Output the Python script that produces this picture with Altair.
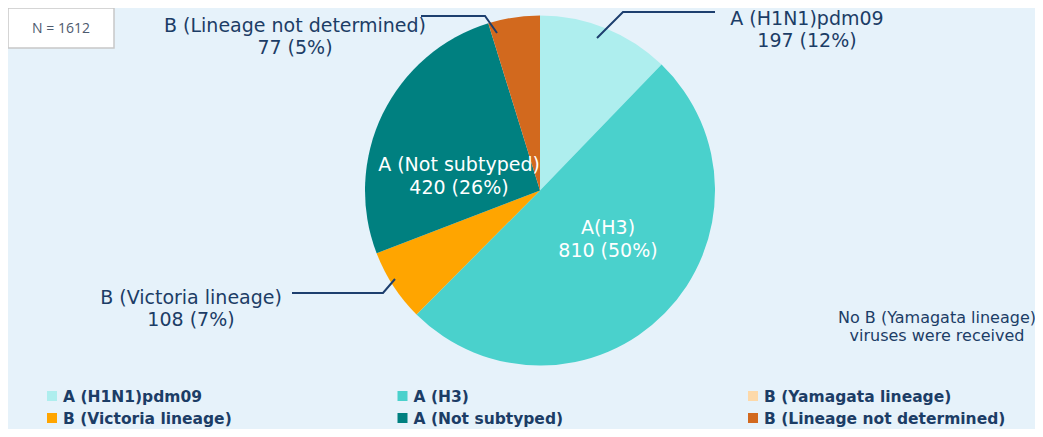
import altair as alt
import pandas as pd

# ---- data ----
categories = ["A (H1N1)pdm09", "A (H3)", "B (Yamagata lineage)",
              "B (Victoria lineage)", "A (Not subtyped)", "B (Lineage not determined)"]
counts = [197, 810, 0, 108, 420, 77]
percents = [12, 50, 0, 7, 26, 5]
slice_names = ["A (H1N1)pdm09", "A(H3)", "B (Yamagata lineage)",
               "B (Victoria lineage)", "A (Not subtyped)", "B (Lineage not determined)"]
colors = ["#aeeeee", "#4ad1cc", "#fdd9a9", "#ffa500", "#008080", "#d2691e"]
total_n = 1612
note_lines = "No B (Yamagata lineage)\nviruses were received"

TEXT = "#1c3d66"
FONT = "DejaVu Sans"

df = pd.DataFrame({
    "category": categories,
    "count": counts,
    "order": list(range(len(categories))),
    "col": [i % 3 for i in range(len(categories))],
    "row": [i // 3 for i in range(len(categories))],
})

color_scale = alt.Scale(domain=categories, range=colors)
CX, CY, R = 532, 182.5, 175

base = alt.Chart(df)

pie = base.mark_arc(outerRadius=R, stroke=None).encode(
    theta=alt.Theta("count:Q", stack=True),
    color=alt.Color("category:N", scale=color_scale, legend=None),
    order=alt.Order("order:Q"),
    x=alt.value(CX), y=alt.value(CY),
)

# ---- slice labels (annotation layout: chart pixel position of first line) ----
lab_idx = [0, 1, 3, 4, 5]
lab_layout = {0: (799, 10.5, TEXT), 1: (600, 220, "white"), 3: (183, 289.5, TEXT),
              4: (451, 157, "white"), 5: (287, 17.5, TEXT)}
lab_df = pd.DataFrame({
    "label": [f"{slice_names[i]}\n{counts[i]} ({percents[i]}%)" for i in lab_idx],
    "px": [lab_layout[i][0] for i in lab_idx],
    "py": [lab_layout[i][1] for i in lab_idx],
    "tc": [lab_layout[i][2] for i in lab_idx],
})
labels = alt.Chart(lab_df).mark_text(
    font=FONT, fontSize=19, fontWeight="normal",
    lineBreak="\n", lineHeight=22.5, baseline="middle", align="center",
).encode(
    x=alt.X("px:Q", scale=None, axis=None),
    y=alt.Y("py:Q", scale=None, axis=None),
    color=alt.Color("tc:N", scale=None, legend=None),
    text="label:N",
)

leader_df = pd.DataFrame({
    "g": [0, 0, 0, 1, 1, 1, 2, 2, 2],
    "k": [0, 1, 2] * 3,
    "lx": [707, 615, 589, 284, 375, 387, 413, 477, 489],
    "ly": [4, 4, 30, 285, 285, 271, 8, 8, 25],
})
leaders = alt.Chart(leader_df).mark_line(color="#1d3f6e", strokeWidth=2).encode(
    x=alt.X("lx:Q", scale=None, axis=None),
    y=alt.Y("ly:Q", scale=None, axis=None),
    detail="g:N",
    order="k:Q",
)

# ---- N box ----
ndf = pd.DataFrame({"t": [f"N = {total_n}"]})
nbox = alt.Chart(ndf).mark_rect(
    fill="white", stroke="#c8c8c8", strokeWidth=1.5
).encode(x=alt.value(0), x2=alt.value(106), y=alt.value(0), y2=alt.value(40))
ntext = alt.Chart(ndf).mark_text(
    font="Open Sans", fontSize=14, color="#4d5a6e", align="center", baseline="middle"
).encode(x=alt.value(53), y=alt.value(21), text="t:N")

note = alt.Chart(pd.DataFrame({"t": [note_lines]})).mark_text(
    font=FONT, fontSize=16, color=TEXT, align="center",
    baseline="middle", lineBreak="\n", lineHeight=18
).encode(x=alt.value(929), y=alt.value(310), text="t:N")

# ---- manual legend ----
lx = alt.X("col:Q", scale=alt.Scale(domain=[0, 3], range=[44, 1095.5]), axis=None)
ly = alt.Y("row:Q", scale=alt.Scale(domain=[0, 2], range=[389, 433]), axis=None)
leg_sq = base.mark_square(size=100, opacity=1, yOffset=-1).encode(
    x=lx, y=ly, color=alt.Color("category:N", scale=color_scale, legend=None)
)
leg_tx = base.mark_text(
    font=FONT, fontSize=15.5, fontWeight="bold", color=TEXT, align="left",
    baseline="middle", dx=11
).encode(x=lx, y=ly, text="category:N")

chart = alt.layer(
    pie, leaders, labels, nbox, ntext, note, leg_sq, leg_tx
).resolve_scale(x="independent", y="independent").properties(
    width=1027, height=421,
    autosize=alt.AutoSizeParams(type="none"),
    padding=0,
).configure(background="#e6f2fa").configure_view(stroke=None)

chart.save("out.html", embed_options={"renderer": "svg", "actions": False})
